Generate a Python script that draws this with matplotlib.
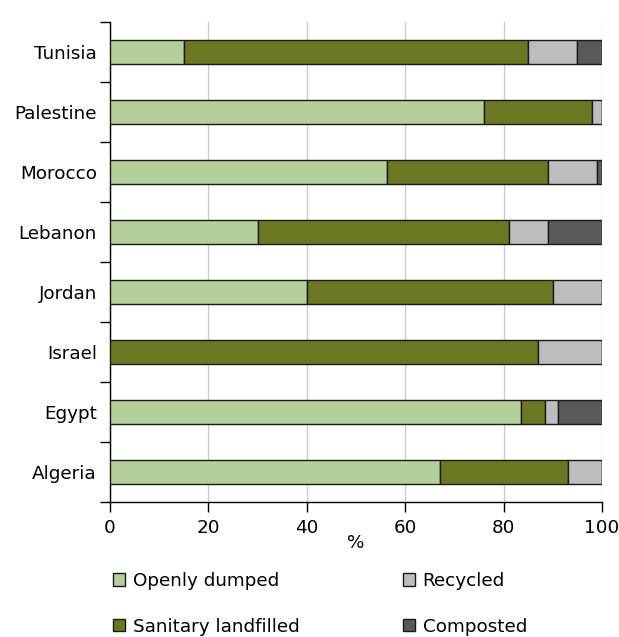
import matplotlib.pyplot as plt
import numpy as np

countries = ["Algeria", "Egypt", "Israel", "Jordan", "Lebanon", "Morocco", "Palestine", "Tunisia"]
openly_dumped = [67, 83.5, 0, 40, 30, 56.4, 76, 15]
landfilled = [26, 5, 87, 50, 51, 32.7, 22, 70]
recycled = [7, 2.5, 13, 10, 8, 9.8, 2, 10]
composted = [0, 9, 0, 0, 11, 1.1, 0, 5]

series = [
    ("Openly dumped", openly_dumped, "#b5cf9a"),
    ("Sanitary landfilled", landfilled, "#6b7822"),
    ("Recycled", recycled, "#bdbdc0"),
    ("Composted", composted, "#59595b"),
]

plt.rcParams['font.family'] = ['DejaVu Sans']
plt.rcParams['font.size'] = 13.2

fig = plt.figure(figsize=(6.19, 6.37), dpi=100)
ax = fig.add_axes([0.1777, 0.2119, 0.7948, 0.7536])

y = np.arange(len(countries))
left = np.zeros(len(countries))
handles = []
for name, vals, col in series:
    vals = np.array(vals, dtype=float)
    b = ax.barh(y, vals, left=left, height=0.4, color=col,
                edgecolor="#1a1a1a", linewidth=1, label=name, zorder=3)
    handles.append(b)
    left += vals

ax.set_xlim(0, 100)
ax.set_ylim(-0.5, len(countries) - 0.5)
ax.set_xticks([0, 20, 40, 60, 80, 100])
ax.set_yticks(y)
ax.set_yticklabels(countries)
ax.set_yticks(np.arange(-0.5, len(countries), 1), minor=True)
ax.tick_params(axis='y', which='major', length=0, pad=9.5)
ax.tick_params(axis='y', which='minor', length=7, width=1, color="black")
ax.tick_params(axis='x', length=7, width=1, pad=5)
ax.set_xlabel("%", labelpad=-2)
ax.xaxis.grid(True, color="#cccccc", linewidth=1, zorder=0)
for s in ["top", "right"]:
    ax.spines[s].set_visible(False)
for s in ["left", "bottom"]:
    ax.spines[s].set_linewidth(1)

fig.legend(handles=handles, labels=[s[0] for s in series], ncol=2,
           loc="upper left", bbox_to_anchor=(113 / 619, 1 - 572 / 637), frameon=False,
           handlelength=0.65, handleheight=0.65, handletextpad=0.45,
           labelspacing=1.5, columnspacing=5.6, borderaxespad=0, borderpad=0)

fig.savefig("out.png", dpi=100)
